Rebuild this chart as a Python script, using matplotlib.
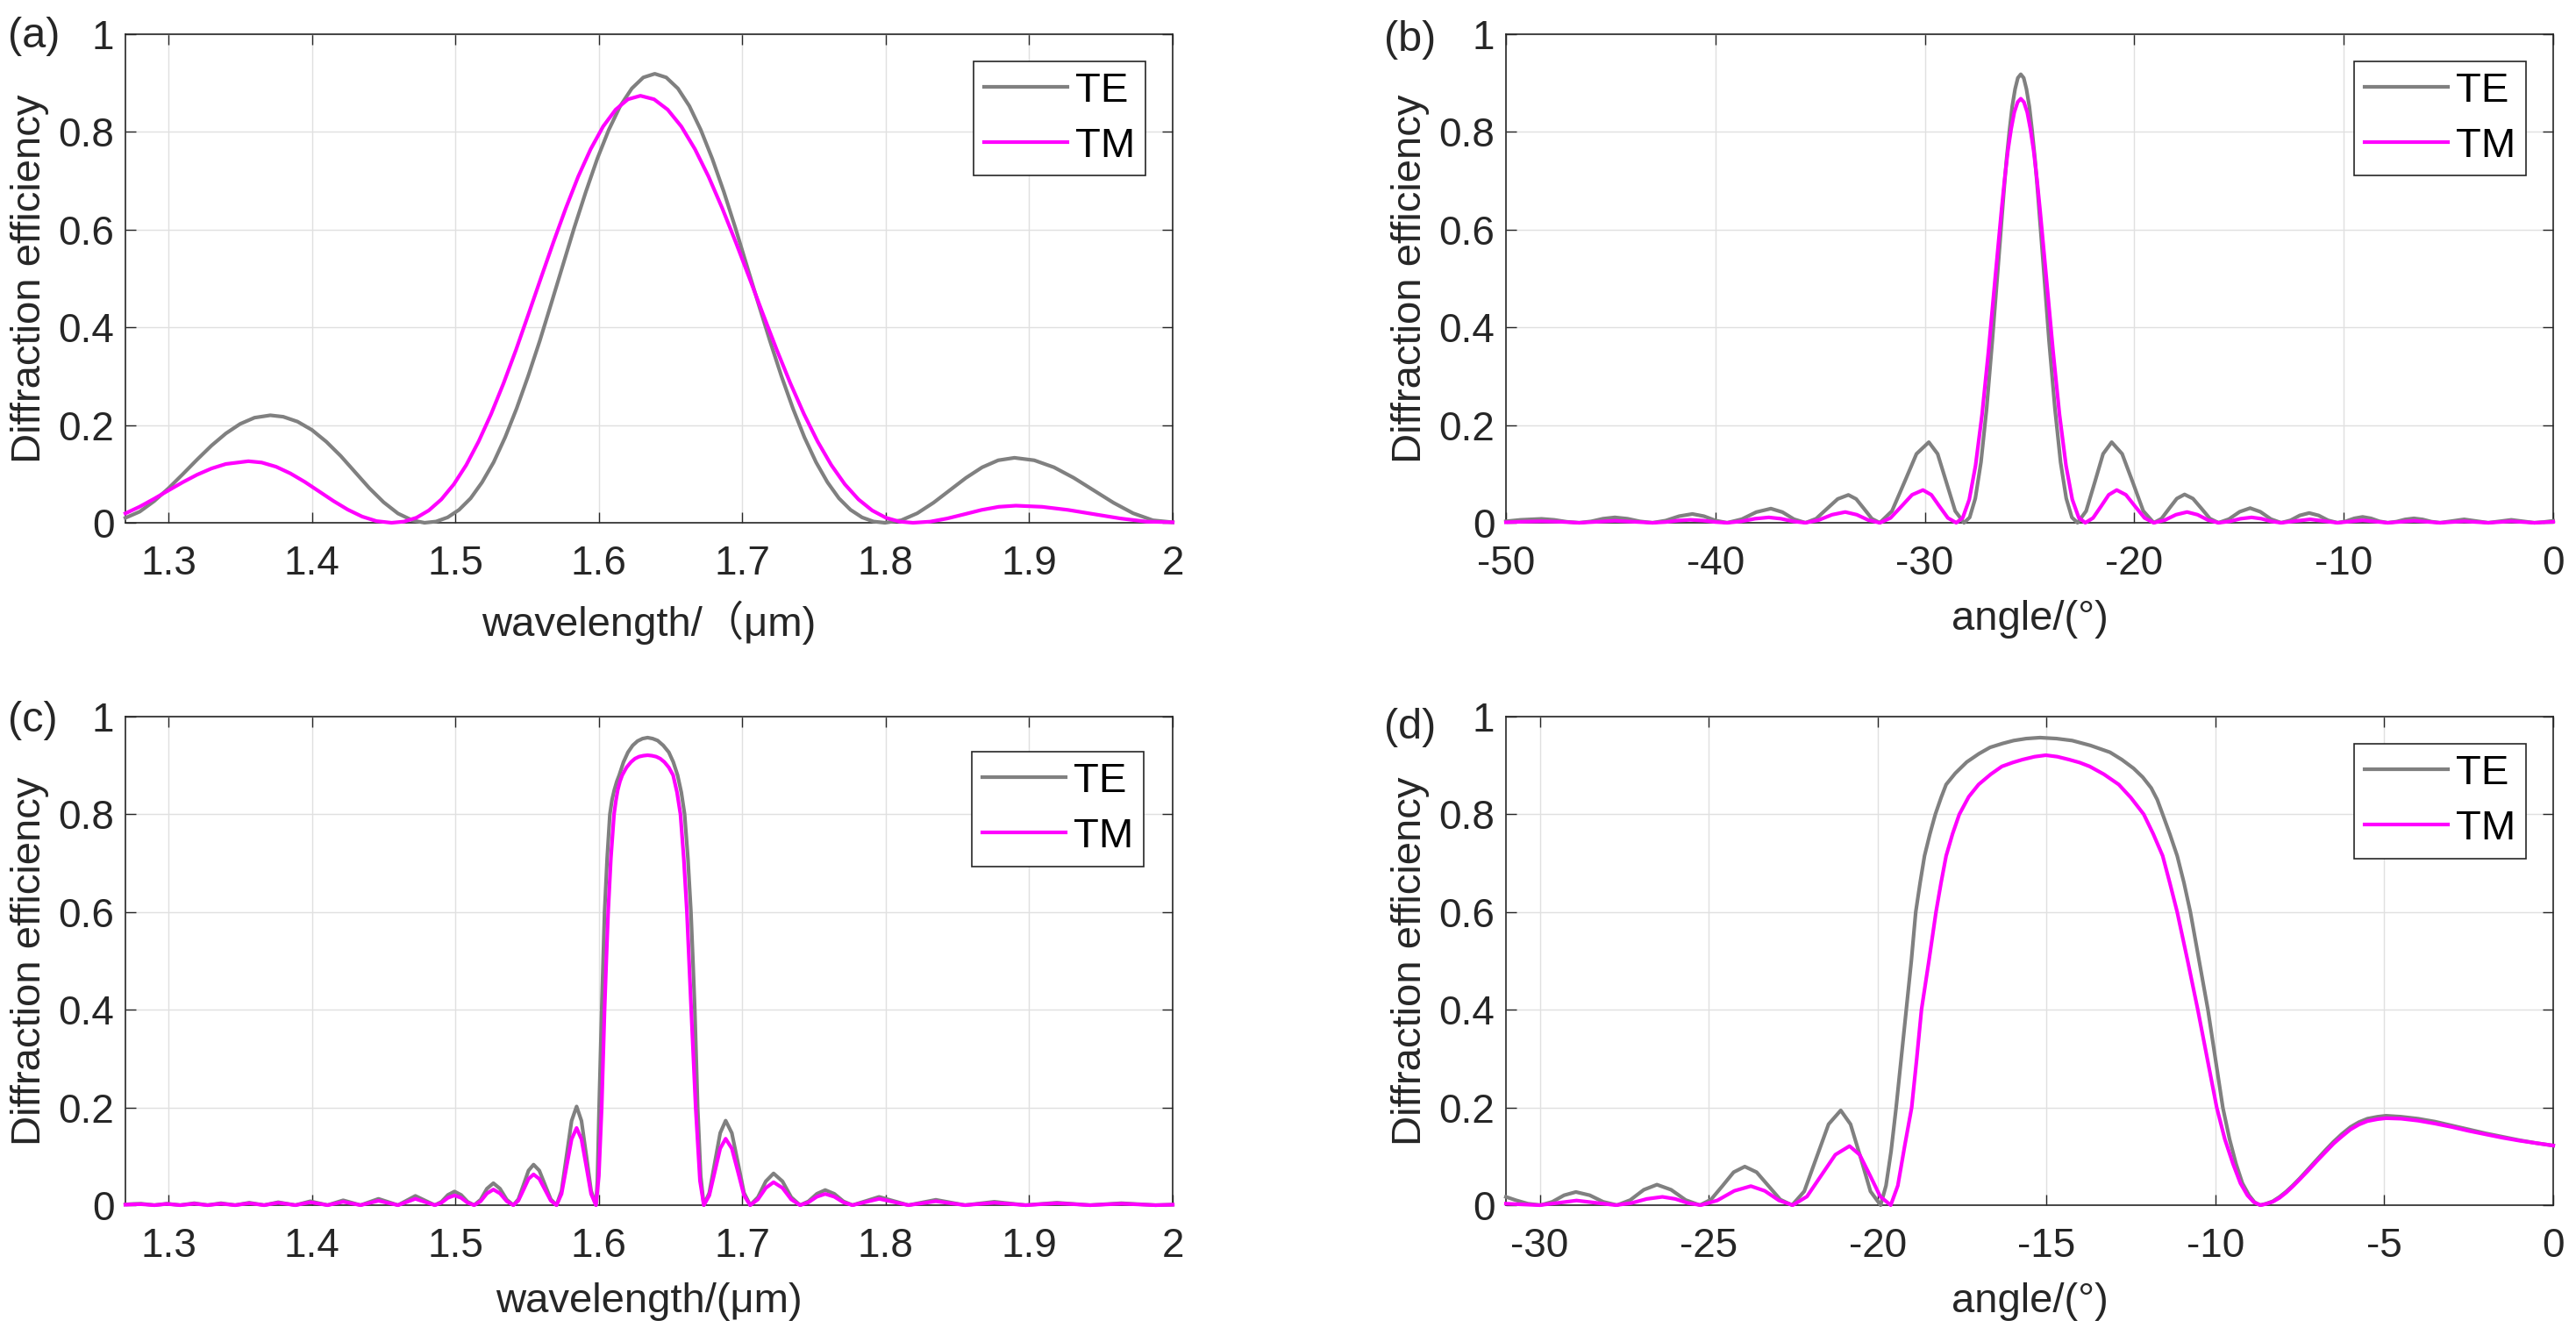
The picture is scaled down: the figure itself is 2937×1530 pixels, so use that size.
import matplotlib
matplotlib.use('Agg')
import matplotlib.pyplot as plt
from matplotlib.ticker import FuncFormatter

plt.rcParams['font.family'] = ['Liberation Sans', 'Noto Sans CJK SC', 'DejaVu Sans']
plt.rcParams['axes.unicode_minus'] = False

# ---------------- (a) efficiency vs wavelength ----------------
a_te_x = [1.27, 1.28, 1.29, 1.30, 1.31, 1.32, 1.33, 1.34, 1.35, 1.36, 1.371,
          1.38, 1.39, 1.40, 1.41, 1.42, 1.43, 1.44, 1.45, 1.46, 1.47,
          1.4785, 1.4865, 1.4946, 1.5026, 1.5106, 1.5186, 1.5267, 1.5347, 1.5427, 1.5507,
          1.5588, 1.5668, 1.5748, 1.5828, 1.5909, 1.5989, 1.6069, 1.6149, 1.623, 1.631,
          1.639, 1.647, 1.6551, 1.6631, 1.6711, 1.6791, 1.6872, 1.6952, 1.7032, 1.7112,
          1.7193, 1.7273, 1.7353, 1.7433, 1.7514, 1.7594, 1.7674, 1.7754, 1.7835, 1.7915,
          1.7995, 1.8108, 1.822, 1.8333, 1.8446, 1.8559, 1.8672, 1.8784, 1.8897,
          1.9035, 1.9173, 1.9311, 1.9449, 1.9587, 1.9724, 1.9862, 2.0]
a_te = [0.010, 0.0228, 0.0442, 0.0704, 0.0995, 0.1294, 0.1580, 0.1828, 0.2024, 0.2151, 0.220,
        0.217, 0.207, 0.190, 0.166, 0.137, 0.104, 0.071, 0.042, 0.019, 0.005,
        0, 0.0025, 0.011, 0.0266, 0.050, 0.0828, 0.124, 0.175, 0.234, 0.300,
        0.372, 0.4486, 0.526, 0.6034, 0.677, 0.745, 0.804, 0.853, 0.889, 0.9115,
        0.919, 0.9115, 0.889, 0.853, 0.804, 0.745, 0.677, 0.6034, 0.526, 0.4486,
        0.372, 0.300, 0.234, 0.175, 0.124, 0.0828, 0.050, 0.0266, 0.011, 0.0025,
        0, 0.0051, 0.0195, 0.0411, 0.0665, 0.0919, 0.1135, 0.1279, 0.133,
        0.1279, 0.1135, 0.0919, 0.0665, 0.0411, 0.0195, 0.0051, 0.001]
a_tm_x = [1.27, 1.28, 1.29, 1.30, 1.31, 1.32, 1.33, 1.34, 1.3557,
          1.365, 1.375, 1.385, 1.395, 1.405, 1.415, 1.425, 1.435, 1.445,
          1.4555, 1.4642, 1.4729, 1.4815, 1.4902, 1.4989, 1.5076, 1.5162, 1.5249, 1.5336,
          1.5423, 1.5509, 1.5596, 1.5683, 1.577, 1.5856, 1.5943, 1.603, 1.6117, 1.6203,
          1.629, 1.6385, 1.648, 1.6575, 1.667, 1.6765, 1.686, 1.6955, 1.705, 1.7145,
          1.724, 1.7335, 1.743, 1.7525, 1.762, 1.7715, 1.781, 1.7905, 1.8, 1.8095,
          1.819, 1.831, 1.8429, 1.8549, 1.8668, 1.8788, 1.8907,
          1.9089, 1.9271, 1.9454, 1.9636, 1.9818, 2.0]
a_tm = [0.0192, 0.0330, 0.0491, 0.0662, 0.0830, 0.0984, 0.1111, 0.1203, 0.126,
        0.1233, 0.1147, 0.1010, 0.0837, 0.0642, 0.0446, 0.0269, 0.0127, 0.0034,
        0, 0.0024, 0.0104, 0.0253, 0.0478, 0.0787, 0.1183, 0.1664, 0.2225, 0.2856,
        0.3542, 0.4266, 0.5007, 0.5739, 0.644, 0.7085, 0.7648, 0.8112, 0.8456, 0.8668,
        0.874, 0.8668, 0.8456, 0.8112, 0.7648, 0.7085, 0.644, 0.5739, 0.5007, 0.4266,
        0.3542, 0.2856, 0.2225, 0.1664, 0.1183, 0.0787, 0.0478, 0.0253, 0.0104, 0.0024,
        0, 0.0023, 0.0088, 0.0175, 0.0263, 0.0327, 0.035,
        0.0327, 0.0263, 0.0175, 0.0088, 0.0023, 0.001]

# ---------------- (b) efficiency vs angle ----------------
b_te_x = [-50.0, -49.3, -48.3, -47.7, -47.1, -46.5,
          -45.93, -45.37, -44.8, -44.2, -43.6, -43.0,
          -42.37, -41.73, -41.1, -40.55, -39.99, -39.44,
          -38.74, -38.05, -37.35, -36.8, -36.25, -35.7,
          -35.19, -34.68, -34.16, -33.65, -33.28, -32.90, -32.53, -32.15,
          -31.57, -30.98, -30.40, -29.81, -29.39, -28.97, -28.55,
          -28.13, -27.86, -27.59, -27.32, -27.05, -26.78, -26.50, -26.23, -26.10, -25.96, -25.83, -25.69, -25.56,
          -25.42, -25.28, -25.15, -25.01, -24.88, -24.74, -24.61, -24.34, -24.07, -23.79, -23.52, -23.25, -22.98,
          -22.71, -22.30, -21.89, -21.49, -21.08, -20.58, -20.07, -19.57,
          -19.07, -18.70, -18.34, -17.97, -17.6, -17.20, -16.79, -16.39,
          -15.98, -15.48, -14.97, -14.47, -13.98, -13.48,
          -12.99, -12.54, -12.10, -11.65, -11.2, -10.75,
          -10.3, -9.9, -9.5, -9.1, -8.7, -8.3,
          -7.9, -7.48, -7.07, -6.65, -6.23, -5.82,
          -5.4, -4.83, -4.25, -3.68,
          -3.1, -2.55, -2.0, -1.45,
          -0.9, -0.45, 0.0]
b_te = [0.003, 0.006, 0.008, 0.006, 0.002, 0,
        0.0028, 0.0083, 0.011, 0.0083, 0.0028, 0,
        0.0045, 0.0135, 0.018, 0.0135, 0.0045, 0,
        0.0073, 0.0218, 0.029, 0.0218, 0.0073, 0,
        0.0083, 0.0285, 0.0487, 0.057, 0.0487, 0.0285, 0.0083, 0,
        0.024, 0.0825, 0.141, 0.165, 0.141, 0.0825, 0.024,
        0, 0.011, 0.050, 0.124, 0.234, 0.372, 0.526, 0.676, 0.744, 0.803, 0.852, 0.888, 0.9105,
        0.918, 0.9105, 0.888, 0.852, 0.803, 0.744, 0.676, 0.526, 0.372, 0.234, 0.124, 0.050, 0.011,
        0, 0.024, 0.0825, 0.141, 0.165, 0.141, 0.0825, 0.024,
        0, 0.0085, 0.029, 0.0495, 0.058, 0.0495, 0.029, 0.0085,
        0, 0.0075, 0.0225, 0.030, 0.0225, 0.0075,
        0, 0.005, 0.015, 0.020, 0.015, 0.005,
        0, 0.003, 0.009, 0.012, 0.009, 0.003,
        0, 0.0023, 0.0068, 0.009, 0.0068, 0.0023,
        0, 0.0035, 0.007, 0.0035,
        0, 0.003, 0.006, 0.003,
        0, 0.0015, 0.004]
b_tm_x = [-50.0, -49.3, -48.3, -47.4, -46.5,
          -45.65, -44.8, -43.9, -43.0,
          -42.37, -41.78, -41.2, -40.6, -40.0, -39.44,
          -38.78, -38.11, -37.45, -36.87, -36.28, -35.7,
          -35.07, -34.43, -33.8, -33.25, -32.70, -32.15,
          -31.64, -31.12, -30.61, -30.09, -29.69, -29.30, -28.90,
          -28.50, -28.19, -27.88, -27.58, -27.27, -26.96, -26.65, -26.34, -26.19, -26.04, -25.88, -25.73, -25.57,
          -25.42, -25.27, -25.11, -24.96, -24.80, -24.65, -24.50, -24.19, -23.88, -23.57, -23.26, -22.96, -22.65,
          -22.34, -21.97, -21.59, -21.22, -20.84, -20.40, -19.96, -19.51,
          -19.07, -18.54, -18.01, -17.48, -16.98, -16.48,
          -15.98, -15.45, -14.93, -14.4, -13.93, -13.46,
          -12.99, -12.3, -11.6, -10.95,
          -10.3, -9.7, -9.1, -8.5,
          -7.9, -7.27, -6.65, -6.03,
          -5.4, -4.83, -4.25, -3.68,
          -3.1, -2.55, -2.0, -1.45,
          -0.9, -0.45, 0.0]
b_tm = [0.001, 0.002, 0.003, 0.002, 0,
        0.002, 0.004, 0.002, 0,
        0.0015, 0.0045, 0.006, 0.0045, 0.0015, 0,
        0.0028, 0.0083, 0.011, 0.0083, 0.0028, 0,
        0.0055, 0.0165, 0.022, 0.0165, 0.0055, 0,
        0.0098, 0.0335, 0.0572, 0.067, 0.0572, 0.0335, 0.0098,
        0, 0.0103, 0.0475, 0.117, 0.221, 0.352, 0.497, 0.640, 0.704, 0.760, 0.806, 0.840, 0.861,
        0.868, 0.861, 0.840, 0.806, 0.760, 0.704, 0.640, 0.497, 0.352, 0.221, 0.117, 0.0475, 0.0103,
        0, 0.0098, 0.0335, 0.0572, 0.067, 0.0572, 0.0335, 0.0098,
        0, 0.0055, 0.0165, 0.022, 0.0165, 0.0055,
        0, 0.0028, 0.0083, 0.011, 0.0083, 0.0028,
        0, 0.0035, 0.007, 0.0035,
        0, 0.0025, 0.005, 0.0025,
        0, 0.002, 0.004, 0.002,
        0, 0.0015, 0.003, 0.0015,
        0, 0.0015, 0.003, 0.0015,
        0, 0.001, 0.002]

# ---------------- (c) efficiency vs wavelength, thick grating ----------------
c_side_left_x = [1.27, 1.2755, 1.2809, 1.2856, 1.2902,
                 1.2946, 1.2989, 1.3036, 1.3082,
                 1.3131, 1.318, 1.3227, 1.3273,
                 1.332, 1.3366, 1.3416, 1.3465,
                 1.3514, 1.3563, 1.3615, 1.3667,
                 1.3716, 1.3765, 1.3825, 1.3885,
                 1.3937, 1.3989, 1.4049, 1.4109,
                 1.4164, 1.4218, 1.4279, 1.4339,
                 1.4402, 1.4464, 1.4532, 1.46,
                 1.4661, 1.4721, 1.4789, 1.4857,
                 1.4903, 1.4948, 1.4994, 1.5040, 1.5085, 1.5131,
                 1.5176, 1.522, 1.5265, 1.5311, 1.5358, 1.5404,
                 1.5439, 1.5475, 1.551, 1.5545, 1.5585, 1.5625, 1.5665, 1.5705,
                 1.574, 1.5775, 1.581, 1.5845, 1.5879, 1.5913, 1.5946]
c_te_left = [0.0015, 0.0025, 0.003, 0.0015, 0,
             0.0015, 0.003, 0.0015, 0,
             0.002, 0.004, 0.002, 0,
             0.002, 0.004, 0.002, 0,
             0.0025, 0.005, 0.0025, 0,
             0.003, 0.006, 0.003, 0,
             0.004, 0.008, 0.004, 0,
             0.005, 0.010, 0.005, 0,
             0.0065, 0.013, 0.0065, 0,
             0.0095, 0.019, 0.0095, 0,
             0.007, 0.021, 0.028, 0.021, 0.007, 0,
             0.0113, 0.0338, 0.045, 0.0338, 0.0113, 0,
             0.0121, 0.0415, 0.0709, 0.083, 0.0709, 0.0415, 0.0121, 0,
             0.0295, 0.101, 0.1725, 0.202, 0.1725, 0.101, 0.0295]
c_tm_left = [0.001, 0.0017, 0.002, 0.001, 0,
             0.0012, 0.0025, 0.0012, 0,
             0.0015, 0.003, 0.0015, 0,
             0.0015, 0.003, 0.0015, 0,
             0.002, 0.004, 0.002, 0,
             0.0025, 0.005, 0.0025, 0,
             0.003, 0.006, 0.003, 0,
             0.0035, 0.007, 0.0035, 0,
             0.0045, 0.009, 0.0045, 0,
             0.0065, 0.013, 0.0065, 0,
             0.005, 0.015, 0.020, 0.015, 0.005, 0,
             0.008, 0.024, 0.032, 0.024, 0.008, 0,
             0.0092, 0.0315, 0.0538, 0.063, 0.0538, 0.0315, 0.0092, 0,
             0.0231, 0.079, 0.1349, 0.158, 0.1349, 0.079, 0.0231]
c_te_main_x = [1.598, 1.599, 1.6002, 1.6011, 1.602, 1.603, 1.604, 1.6058, 1.6077, 1.6092,
               1.6108, 1.6125, 1.6142, 1.6172, 1.6203, 1.6236, 1.627, 1.6305, 1.634, 1.6375,
               1.641, 1.6449, 1.6488, 1.6519, 1.6549, 1.6575, 1.6598, 1.6621, 1.6642, 1.6656,
               1.6669, 1.6689, 1.671, 1.6732]
c_te_main = [0, 0.05, 0.2, 0.3, 0.4, 0.5, 0.6, 0.71, 0.8, 0.83,
             0.85, 0.867, 0.88, 0.907, 0.927, 0.941, 0.95, 0.955, 0.957, 0.955,
             0.951, 0.941, 0.927, 0.907, 0.88, 0.845, 0.8, 0.71, 0.6, 0.5,
             0.4, 0.2, 0.06, 0]
c_tm_main_x = [1.598, 1.6, 1.602, 1.603, 1.604, 1.6052, 1.6065, 1.6084, 1.6106, 1.6119,
               1.6132, 1.6147, 1.6163, 1.6193, 1.6224, 1.6252, 1.628, 1.631, 1.634, 1.637,
               1.640, 1.6428, 1.6457, 1.6488, 1.6518, 1.6545, 1.6569, 1.6592, 1.6614, 1.6629,
               1.6644, 1.6675, 1.6705, 1.6732]
c_tm_main = [0, 0.06, 0.2, 0.3, 0.4, 0.5, 0.6, 0.71, 0.8, 0.828,
             0.85, 0.867, 0.88, 0.896, 0.907, 0.914, 0.918, 0.920, 0.921, 0.920,
             0.918, 0.914, 0.907, 0.896, 0.88, 0.845, 0.8, 0.71, 0.6, 0.5,
             0.4, 0.2, 0.05, 0]
c_side_right_x = [1.677, 1.6808, 1.6846, 1.6884, 1.6927, 1.697, 1.7012, 1.7055,
                  1.7109, 1.7164, 1.7218, 1.728, 1.7341, 1.7403,
                  1.7461, 1.752, 1.7578, 1.7641, 1.7705, 1.7768,
                  1.7861, 1.7954, 1.8056, 1.8158,
                  1.8254, 1.8349, 1.8451, 1.8553,
                  1.8655, 1.8757, 1.8866, 1.8975,
                  1.9084, 1.9193, 1.9309, 1.9425,
                  1.9534, 1.9643, 1.9762, 1.988,
                  2.0]
c_te_right = [0.0253, 0.0865, 0.1477, 0.173, 0.1477, 0.0865, 0.0253, 0,
              0.0163, 0.0488, 0.065, 0.0488, 0.0163, 0,
              0.0078, 0.0233, 0.031, 0.0233, 0.0078, 0,
              0.0085, 0.017, 0.0085, 0,
              0.0055, 0.011, 0.0055, 0,
              0.0035, 0.007, 0.0035, 0,
              0.0025, 0.005, 0.0025, 0,
              0.002, 0.004, 0.002, 0,
              0.001]
c_tm_right = [0.0199, 0.068, 0.1161, 0.136, 0.1161, 0.068, 0.0199, 0,
              0.0118, 0.0353, 0.047, 0.0353, 0.0118, 0,
              0.0058, 0.0173, 0.023, 0.0173, 0.0058, 0,
              0.0065, 0.013, 0.0065, 0,
              0.004, 0.008, 0.004, 0,
              0.0025, 0.005, 0.0025, 0,
              0.002, 0.004, 0.002, 0,
              0.0015, 0.003, 0.0015, 0,
              0.001]

# ---------------- (d) efficiency vs angle, thick grating ----------------
d_te_x = [-31.0, -30.7, -30.35, -29.98,
          -29.63, -29.28, -28.93, -28.52, -28.12, -27.71,
          -27.32, -26.92, -26.53, -26.11, -25.68, -25.26,
          -24.93, -24.59, -24.26, -23.93, -23.58, -23.23, -22.88, -22.53,
          -22.17, -21.81, -21.45, -21.09, -20.80, -20.50, -20.21,
          -19.91, -19.75, -19.6, -19.45, -19.3, -19.15, -19.0, -18.87, -18.74, -18.61,
          -18.45, -18.29, -18.12, -17.97, -17.7, -17.36, -17.0, -16.67, -16.3, -15.97,
          -15.6, -15.19, -14.7, -14.24, -13.7, -13.12, -12.77, -12.42, -12.15, -11.90,
          -11.72, -11.56, -11.35, -11.13, -10.93, -10.74, -10.48, -10.22, -10.0, -9.78,
          -9.58, -9.39, -9.2, -9.0, -8.84,
          -8.68, -8.5, -8.3, -8.1, -7.9, -7.7, -7.5, -7.25, -7.0, -6.75, -6.5, -6.25, -6.0, -5.75,
          -5.5, -5.2, -4.95, -4.5, -4.0, -3.5, -3.0, -2.5, -2.0, -1.5, -1.0, -0.5, 0.0]
d_te = [0.017, 0.010, 0.003, 0,
        0.0068, 0.0203, 0.027, 0.0203, 0.0068, 0,
        0.0105, 0.0315, 0.042, 0.0315, 0.0105, 0,
        0.0115, 0.0395, 0.0675, 0.079, 0.0675, 0.0395, 0.0115, 0,
        0.0283, 0.097, 0.1657, 0.194, 0.1657, 0.097, 0.0283,
        0, 0.04, 0.11, 0.2, 0.3, 0.4, 0.5, 0.6, 0.66, 0.715,
        0.76, 0.8, 0.834, 0.861, 0.884, 0.907, 0.924, 0.937, 0.945, 0.951,
        0.955, 0.957, 0.955, 0.951, 0.941, 0.927, 0.912, 0.894, 0.876, 0.854,
        0.83, 0.8, 0.76, 0.715, 0.66, 0.6, 0.5, 0.4, 0.3, 0.2,
        0.135, 0.085, 0.045, 0.02, 0.006,
        0, 0.003, 0.008, 0.017, 0.028, 0.041, 0.055, 0.074, 0.093, 0.112, 0.13, 0.146, 0.16, 0.17,
        0.177, 0.181, 0.183, 0.181, 0.177, 0.171, 0.163, 0.155, 0.147, 0.14, 0.133, 0.127, 0.122]
d_tm_x = [-31.0, -30.5, -30.0,
          -29.45, -28.91, -28.33, -27.75,
          -27.29, -26.83, -26.37, -25.99, -25.61, -25.23,
          -24.74, -24.24, -23.75, -23.34, -22.92, -22.51,
          -22.09, -21.67, -21.25, -20.83, -20.53, -20.22, -19.92,
          -19.61, -19.4, -19.2, -18.99, -18.84, -18.70, -18.48, -18.27, -18.12, -17.97,
          -17.78, -17.58, -17.3, -17.01, -16.65, -16.32, -16.0, -15.71, -15.35, -15.02,
          -14.68, -14.33, -14.02, -13.72, -13.3, -12.86, -12.5, -12.12, -11.84, -11.56,
          -11.35, -11.13, -10.82, -10.52, -10.24, -9.96, -9.72, -9.48, -9.26, -9.05,
          -8.86,
          -8.66, -8.5, -8.3, -8.1, -7.9, -7.7, -7.5, -7.25, -7.0, -6.75, -6.5, -6.25, -6.0, -5.75,
          -5.5, -5.2, -4.95, -4.5, -4.0, -3.5, -3.0, -2.5, -2.0, -1.5, -1.0, -0.5, 0.0]
d_tm = [0.003, 0.0015, 0,
        0.0048, 0.0095, 0.0048, 0,
        0.0043, 0.0128, 0.017, 0.0128, 0.0043, 0,
        0.0098, 0.0293, 0.039, 0.0293, 0.0098, 0,
        0.0177, 0.0605, 0.1033, 0.121, 0.1033, 0.0605, 0.0177,
        0, 0.04, 0.12, 0.2, 0.3, 0.4, 0.5, 0.6, 0.66, 0.715,
        0.76, 0.8, 0.836, 0.861, 0.882, 0.898, 0.906, 0.912, 0.918, 0.921,
        0.918, 0.912, 0.906, 0.898, 0.882, 0.861, 0.834, 0.8, 0.76, 0.715,
        0.66, 0.6, 0.5, 0.4, 0.3, 0.2, 0.135, 0.085, 0.045, 0.02,
        0.006,
        0, 0.0025, 0.007, 0.015, 0.026, 0.039, 0.053, 0.071, 0.09, 0.108, 0.126, 0.141, 0.155, 0.165,
        0.172, 0.176, 0.178, 0.177, 0.173, 0.167, 0.16, 0.152, 0.145, 0.138, 0.132, 0.127, 0.122]

# ticks / labels
y_ticks = [0, 0.2, 0.4, 0.6, 0.8, 1]
wl_ticks = [1.3, 1.4, 1.5, 1.6, 1.7, 1.8, 1.9, 2.0]
b_ticks = [-50, -40, -30, -20, -10, 0]
d_ticks = [-30, -25, -20, -15, -10, -5, 0]
series_names = ['TE', 'TM']
panel_tags = ['(a)', '(b)', '(c)', '(d)']

TE_COLOR = '#808080'
TM_COLOR = '#ff00ff'
AX_COLOR = '#262626'
W, H = 2937, 1530


def setup_axes(ax, xlim, xticks, xlabel):
    """Оформление осей в стиле MATLAB: рамка, засечки внутрь, сетка."""
    ax.set_xlim(*xlim)
    ax.set_ylim(0, 1)
    ax.set_xticks(xticks)
    ax.set_yticks(y_ticks)
    fmt = FuncFormatter(lambda v, p: f'{v:g}')
    ax.xaxis.set_major_formatter(fmt)
    ax.yaxis.set_major_formatter(fmt)
    ax.tick_params(direction='in', top=True, right=True, length=8.5, width=1.0,
                   color=AX_COLOR, labelcolor=AX_COLOR, labelsize=33)
    ax.tick_params(axis='x', pad=18)
    ax.tick_params(axis='y', pad=9)
    ax.grid(True, color='#e0e0e0', linewidth=1.0)
    ax.set_axisbelow(True)
    for sp in ax.spines.values():
        sp.set_color(AX_COLOR)
        sp.set_linewidth(1.2)
    ax.set_xlabel(xlabel, fontsize=34, color=AX_COLOR, labelpad=14)
    ax.set_ylabel('Diffraction efficiency', fontsize=34, color=AX_COLOR, labelpad=8)


def draw_panel(ax, te_x, te_y, tm_x, tm_y, legend_anchor):
    ax.plot(te_x, te_y, color=TE_COLOR, lw=3.0, label=series_names[0], clip_on=False, zorder=3)
    ax.plot(tm_x, tm_y, color=TM_COLOR, lw=3.0, label=series_names[1], clip_on=False, zorder=4)
    leg = ax.legend(loc='upper right', bbox_to_anchor=legend_anchor, borderaxespad=0,
                    fontsize=34, handlelength=2.0, handletextpad=0.2, borderpad=0.25,
                    labelspacing=0.4, fancybox=False, framealpha=1, edgecolor=AX_COLOR)
    leg.get_frame().set_linewidth(1.2)


fig = plt.figure(figsize=(W / 100, H / 100), dpi=100)

# положения осей в пикселях исходной картинки
left_px = [143, 1717]
top_px = [39, 817]
ax_w, ax_h = 1194, 557

axes = []
for r in range(2):
    for c in range(2):
        rect = [left_px[c] / W, 1 - (top_px[r] + ax_h) / H, ax_w / W, ax_h / H]
        axes.append(fig.add_axes(rect))
ax_a, ax_b, ax_c, ax_d = axes

anchor = (1 - 31 / ax_w, 1 - 31 / ax_h)

setup_axes(ax_a, (1.27, 2.0), wl_ticks, 'wavelength/（μm)')
draw_panel(ax_a, a_te_x, a_te, a_tm_x, a_tm, anchor)

setup_axes(ax_b, (-50, 0), b_ticks, 'angle/(°)')
draw_panel(ax_b, b_te_x, b_te, b_tm_x, b_tm, anchor)

setup_axes(ax_c, (1.27, 2.0), wl_ticks, 'wavelength/(μm)')
draw_panel(ax_c,
           c_side_left_x + c_te_main_x + c_side_right_x, c_te_left + c_te_main + c_te_right,
           c_side_left_x + c_tm_main_x + c_side_right_x, c_tm_left + c_tm_main + c_tm_right,
           (1 - 33 / ax_w, 1 - 40 / ax_h))

setup_axes(ax_d, (-31, 0), d_ticks, 'angle/(°)')
draw_panel(ax_d, d_te_x, d_te, d_tm_x, d_tm, anchor)

# метки панелей
tag_pos = [(9, 42), (1578, 46), (9, 822), (1578, 830)]
for tag, (px, py) in zip(panel_tags, tag_pos):
    fig.text(px / W, 1 - py / H, tag, fontsize=35, color=AX_COLOR, ha='left', va='center')

fig.savefig('out.png', dpi=100)
